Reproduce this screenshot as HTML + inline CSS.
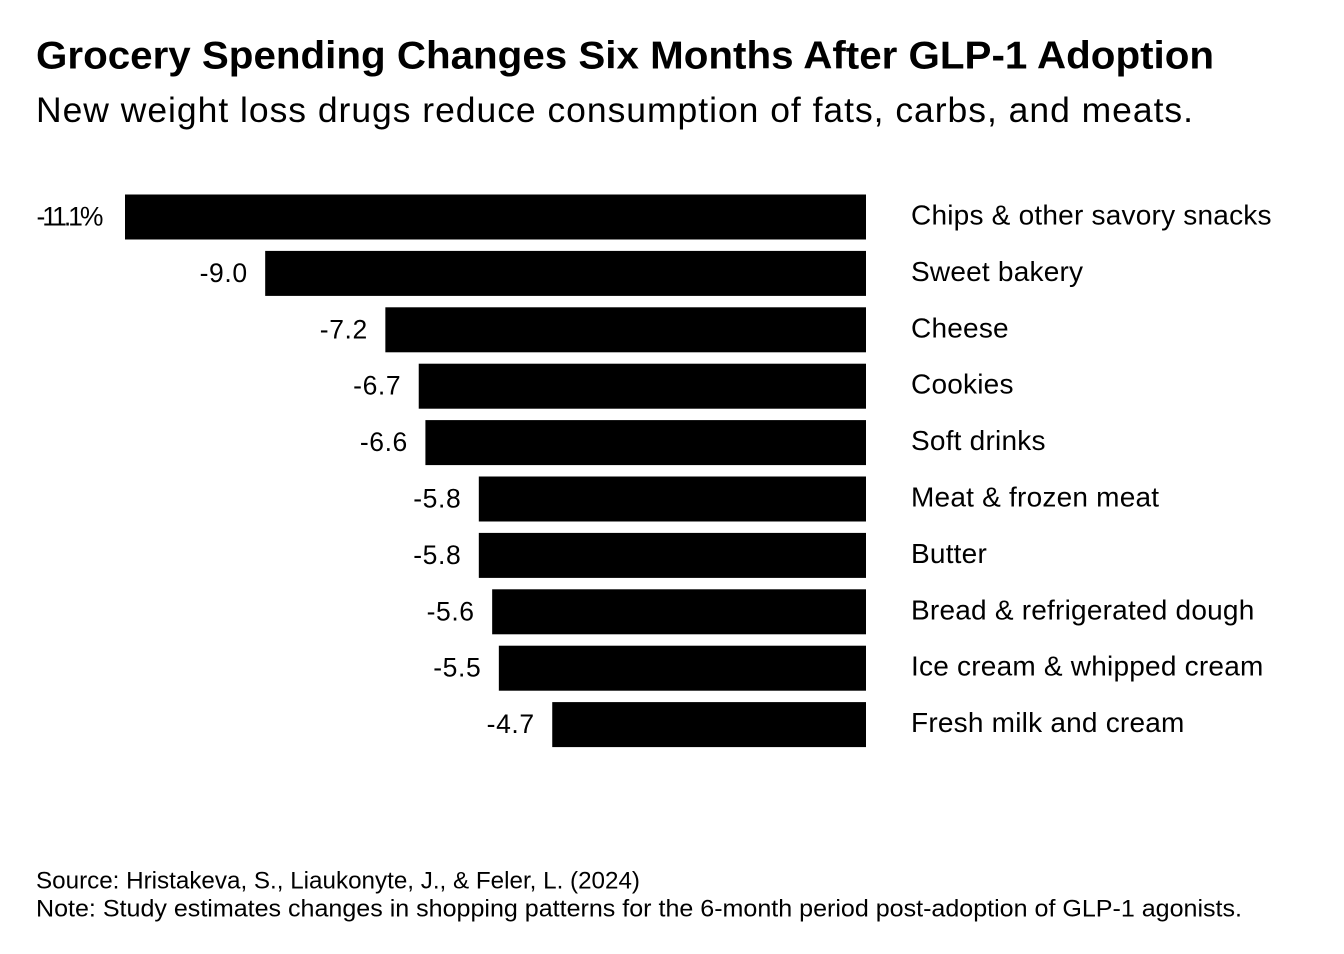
<!DOCTYPE html>
<html lang="en">
<head>
<meta charset="utf-8">
<title>Grocery Spending Changes Six Months After GLP-1 Adoption</title>
<style>
html,body{margin:0;padding:0;background:#fff;}
body{width:1344px;height:954px;overflow:hidden;position:relative;font-family:"Liberation Sans",Arial,sans-serif;color:#000;}
svg{position:absolute;left:0;top:0;}
text{font-family:"Liberation Sans",Arial,sans-serif;fill:#000;}
</style>
</head>
<body>
<svg id="chart" width="1344" height="954" viewBox="0 0 1344 954">
  <text x="36" y="68.5" font-size="38.5" font-weight="700" textLength="1178" lengthAdjust="spacingAndGlyphs">Grocery Spending Changes Six Months After GLP-1 Adoption</text>
  <text x="36" y="122" font-size="35.5" textLength="1157" lengthAdjust="spacing">New weight loss drugs reduce consumption of fats, carbs, and meats.</text>
  <g id="bars"></g>
  <text x="36" y="888.5" font-size="24" textLength="604" lengthAdjust="spacingAndGlyphs">Source: Hristakeva, S., Liaukonyte, J., &amp; Feler, L. (2024)</text>
  <text x="36" y="916.5" font-size="24" textLength="1206" lengthAdjust="spacingAndGlyphs">Note: Study estimates changes in shopping patterns for the 6-month period post-adoption of GLP-1 agonists.</text>
</svg>
<script>
const categories = ["Chips & other savory snacks","Sweet bakery","Cheese","Cookies","Soft drinks","Meat & frozen meat","Butter","Bread & refrigerated dough","Ice cream & whipped cream","Fresh milk and cream"];
const values = [-11.1,-9.0,-7.2,-6.7,-6.6,-5.8,-5.8,-5.6,-5.5,-4.7];
const valueLabels = ["-11.1%","-9.0","-7.2","-6.7","-6.6","-5.8","-5.8","-5.6","-5.5","-4.7"];

const NS = "http://www.w3.org/2000/svg";
const group = document.getElementById("bars");
function xScale(v){ return 866 + v * (741 / 11.1); }
function yScale(i){ return 194.5 + i * 56.4; }
const barHeight = 45;

categories.forEach(function(cat, i){
  const x0 = xScale(values[i]);
  const y = yScale(i);
  const label = valueLabels[i];
  const hasUnit = label.indexOf("%") !== -1;

  const rect = document.createElementNS(NS, "rect");
  rect.setAttribute("x", x0);
  rect.setAttribute("y", y);
  rect.setAttribute("width", xScale(0) - x0);
  rect.setAttribute("height", barHeight);
  rect.setAttribute("fill", "#000");
  
  
  group.appendChild(rect);

  const val = document.createElementNS(NS, "text");
  val.setAttribute("x", x0 - (hasUnit ? 21.5 : 17.5));
  val.setAttribute("y", y + 31);
  val.setAttribute("text-anchor", "end");
  val.setAttribute("font-size", "26.5");
  if (hasUnit) {
    const num = document.createElementNS(NS, "tspan");
    num.setAttribute("letter-spacing", "-3");
    num.textContent = label.replace("%", "");
    val.appendChild(num);
    const unit = document.createElementNS(NS, "tspan");
    unit.textContent = "%";
    val.appendChild(unit);
  } else {
    val.setAttribute("letter-spacing", "0.6");
    val.textContent = label;
  }
  
  
  group.appendChild(val);

  const lab = document.createElementNS(NS, "text");
  lab.setAttribute("x", 911);
  lab.setAttribute("y", y + 30);
  lab.setAttribute("font-size", "28");
  lab.setAttribute("letter-spacing", "0.22");
  lab.textContent = cat;
  
  
  group.appendChild(lab);
});
</script>
</body>
</html>
